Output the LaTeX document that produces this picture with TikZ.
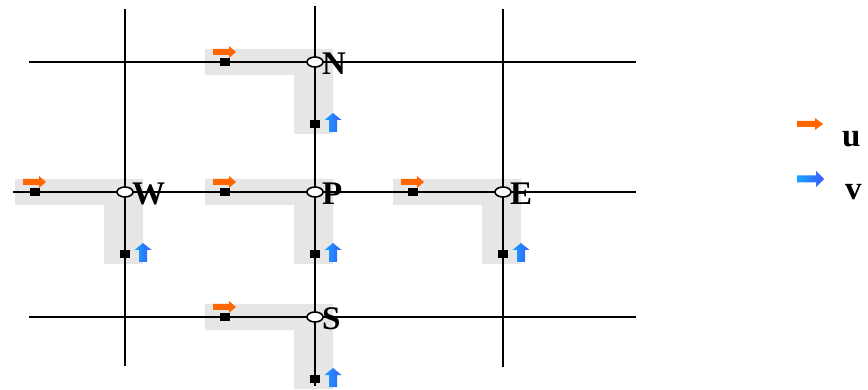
\documentclass[tikz,border=0pt]{standalone}
\usepackage{fontspec}
\setmainfont{Liberation Serif}
\usetikzlibrary{shapes.geometric}
\definecolor{bandgray}{RGB}{230,230,230}
\definecolor{uorange}{RGB}{255,102,0}
\definecolor{vblueL}{RGB}{20,165,255}
\definecolor{vblueR}{RGB}{60,90,250}
\begin{document}
\begin{tikzpicture}[x=1pt,y=-1pt,
  gridline/.style={line width=1.9pt,black},
  band/.style={fill=bandgray},
  ctr/.style={ellipse,draw=black,fill=white,line width=1.6pt,minimum width=16pt,minimum height=10pt,inner sep=0pt},
  dot/.style={rectangle,fill=black,minimum width=10pt,minimum height=8pt,inner sep=0pt},
  lbl/.style={inner sep=0pt,anchor=base west,font=\bfseries\fontsize{33}{33}\selectfont},
  uarr/.pic={\fill[uorange] (0,-3) -- (16,-3) -- (16,-6) -- (23,0) -- (16,6) -- (16,3) -- (0,3) -- cycle;},
  varr/.pic={\shade[left color=vblueL,right color=vblueR] (-4,0) -- (-4,-12) -- (-8.5,-12) -- (0,-19) -- (8.5,-12) -- (4,-12) -- (4,0) -- cycle;},
  uleg/.pic={\fill[uorange] (0,-3) -- (18,-3) -- (18,-6) -- (26,0) -- (18,6) -- (18,3) -- (0,3) -- cycle;},
  vleg/.pic={\shade[left color=vblueL,right color=vblueR] (0,-3.5) -- (19,-3.5) -- (19,-8) -- (27,0) -- (19,8) -- (19,3.5) -- (0,3.5) -- cycle;}
]
\useasboundingbox (0,0) rectangle (868,390);

% gray L-shaped bands
\foreach \cx/\cy in {315/62, 125/192, 315/192, 503/192, 315/317}{
  \fill[band] (\cx-110,\cy-13) -- (\cx+18,\cy-13) -- (\cx+18,\cy+72) -- (\cx-21,\cy+72)
    -- (\cx-21,\cy+13) -- (\cx-110,\cy+13) -- cycle;
}

% grid end points
\coordinate (r1a) at (29,62);  \coordinate (r1b) at (636,62);
\coordinate (r2a) at (13,192); \coordinate (r2b) at (636,192);
\coordinate (r3a) at (29,317); \coordinate (r3b) at (636,317);
\coordinate (c1a) at (125,9);  \coordinate (c1b) at (125,366);
\coordinate (c2a) at (315,6);  \coordinate (c2b) at (315,386);
\coordinate (c3a) at (503,9);  \coordinate (c3b) at (503,367);
\draw[gridline] (r1a) -- (r1b);
\draw[gridline] (r2a) -- (r2b);
\draw[gridline] (r3a) -- (r3b);
\draw[gridline] (c1a) -- (c1b);
\draw[gridline] (c2a) -- (c2b);
\draw[gridline] (c3a) -- (c3b);

% cells
\foreach \n/\cx/\cy in {N/315/62, W/125/192, P/315/192, E/503/192, S/315/317}{
  \node[dot] (u\n) at (\cx-90,\cy) {};
  \node[dot] (v\n) at (\cx,\cy+62) {};
  \pic at (\cx-102,\cy-10) {uarr};
  \pic at (\cx+18,\cy+70) {varr};
  \node[ctr] (\n) at (\cx,\cy) {};
  \node[lbl] (t\n) at (\cx+7,\cy+12.5) {\n};
}

% legend
\pic at (797,124) {uleg};
\pic at (797,179) {vleg};
\node[lbl] (lu) at (842,147) {u};
\node[lbl] (lv) at (845,200) {v};
\end{tikzpicture}
\end{document}
